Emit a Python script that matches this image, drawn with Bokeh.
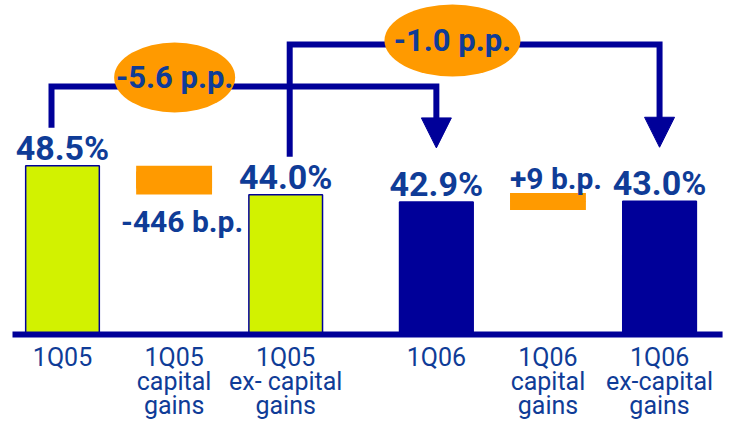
from bokeh.plotting import figure
from bokeh.models import Range1d, ColumnDataSource, Arrow, NormalHead
from bokeh.core.properties import value
from bokeh.embed import file_html
from bokeh.resources import INLINE

# ---------------- data ----------------
categories = ["1Q05", "1Q05\ncapital\ngains", "1Q05\nex- capital\ngains",
              "1Q06", "1Q06\ncapital\ngains", "1Q06\nex-capital\ngains"]
ratio_cats = [0, 2, 3, 5]                 # category of each ratio bar
ratios = [48.5, 44.0, 42.9, 43.0]         # efficiency ratio, %
ratio_labels = ["48.5%", "44.0%", "42.9%", "43.0%"]
ratio_year = ["2005", "2005", "2006", "2006"]
delta_cats = [1, 4]                       # category of each capital-gains step
delta_from = [0, 2]                       # ratio the step starts from
delta_bp = [-446, 9]                      # basis points
delta_labels = ["-446 b.p.", "+9 b.p."]
change_from = [0, 1]                      # year-on-year comparisons (ratio index)
change_to = [2, 3]
change_labels = ["-5.6 p.p.", "-1.0 p.p."]

# ---------------- style / layout ----------------
W, H = 733, 425
NAVY = "#000099"
LIME = "#D2F200"
ORANGE = "#FF9A00"
TXT = "#0F3C97"
FONT = value("Roboto")
year_color = {"2005": LIME, "2006": NAVY}

X_PX = 111.6          # px per category unit
X0_PX = 62            # px of first category
GAP = 0.35            # extra gap between the two quarters
Y_PX = 6.47           # px per percentage point
Y_TOP = 74.03         # value at top edge

def dvx(px):
    return px / X_PX

def dv(px):
    return px / Y_PX

def at_px(px):
    return Y_TOP - px / Y_PX

pos = [i + (GAP if i >= 3 else 0) for i in range(len(categories))]
BASE = at_px(334)

p = figure(width=W, height=H,
           x_range=Range1d(-X0_PX / X_PX, (W - X0_PX) / X_PX),
           y_range=Range1d(Y_TOP - H / Y_PX, Y_TOP),
           output_backend="svg", toolbar_location=None,
           x_axis_location=None, y_axis_location=None,
           min_border=0, outline_line_color=None,
           background_fill_color="white", border_fill_color="white")
p.xgrid.visible = False
p.ygrid.visible = False

# ratio bars
bars = ColumnDataSource(dict(
    x=[pos[c] for c in ratio_cats], top=ratios, label=ratio_labels,
    color=[year_color[y] for y in ratio_year]))
p.vbar(x="x", top="top", bottom=BASE, width=0.66, source=bars,
       fill_color="color", line_color=NAVY, line_width=1.5)

# capital gains steps
d_start = [ratios[i] for i in delta_from]
d_end = [s + b / 100 for s, b in zip(d_start, delta_bp)]
d_x = [pos[c] for c in delta_cats]
p.vbar(x=d_x, bottom=[min(a, b) for a, b in zip(d_start, d_end)],
       top=[max(a, b) for a, b in zip(d_start, d_end)], width=0.68,
       fill_color=ORANGE, line_color=None)
p.rect(x=d_x, y=[(a + b) / 2 for a, b in zip(d_start, d_end)], width=0.68,
       height=17, height_units="screen", fill_color=ORANGE, line_color=None)

# delta labels: below for falls, above for rises
lab_y, lab_off = [], []
for a, b, bp in zip(d_start, d_end, delta_bp):
    if bp < 0:
        lab_y.append(min(a, b)); lab_off.append(27)
    else:
        lab_y.append((a + b) / 2 + dv(8.5)); lab_off.append(-15)
p.text(x=d_x, y=lab_y, text=delta_labels, x_offset=8, y_offset=lab_off,
       text_align="center", text_baseline="middle", text_font=FONT,
       text_font_style="bold", text_font_size="30px", text_color=TXT)

# baseline
p.segment(x0=[pos[0] - dvx(50)], x1=[pos[-1] + dvx(63)], y0=[BASE], y1=[BASE],
          line_color=NAVY, line_width=6)

# value labels
p.text(x="x", y="top", text="label", source=bars, y_offset=-18,
       text_align="center", text_baseline="middle", text_font=FONT,
       text_font_style="bold", text_font_size="34px", text_color=TXT)

# category labels
p.text(x=pos, y=[BASE] * len(pos), text=categories, y_offset=8,
       text_align="center", text_baseline="top", text_line_height=0.83,
       text_font=FONT, text_font_size="25px", text_color=TXT)

# comparison brackets
START_DX = [-11, 4]
LEVEL_PX = [86, 44]
ELL_FRAC = [0.32, 0.44]
ELL_LIFT = [9, 4]
ELL_W = [121, 136]
ELL_H = [70, 72]
HEAD = 30
for k in range(len(change_labels)):
    ia, ib = change_from[k], change_to[k]
    xa = pos[ratio_cats[ia]] + dvx(START_DX[k])
    xb = pos[ratio_cats[ib]]
    y0 = ratios[ia] + dv(38)
    lvl = at_px(LEVEL_PX[k])
    tip = ratios[ib] + dv(54)
    p.line(x=[xa, xa, xb, xb], y=[y0, lvl, lvl, tip + dv(HEAD - 2)],
           line_color=NAVY, line_width=6, line_join="miter")
    p.add_layout(Arrow(x_start=xb, y_start=tip + dv(HEAD), x_end=xb, y_end=tip,
                       line_color=NAVY, line_width=6,
                       end=NormalHead(size=HEAD, fill_color=NAVY, line_color=NAVY,
                                      line_width=1)))
    ex = xa + ELL_FRAC[k] * (xb - xa)
    ey = lvl + dv(ELL_LIFT[k])
    p.ellipse(x=[ex], y=[ey], width=ELL_W[k], height=ELL_H[k],
              width_units="screen", height_units="screen",
              fill_color=ORANGE, line_color=None)
    p.text(x=[ex], y=[ey], text=[change_labels[k]], y_offset=0,
           text_align="center", text_baseline="middle", text_font=FONT,
           text_font_style="bold", text_font_size="31px", text_color=TXT)

open("out.html", "w").write(file_html(p, INLINE))
